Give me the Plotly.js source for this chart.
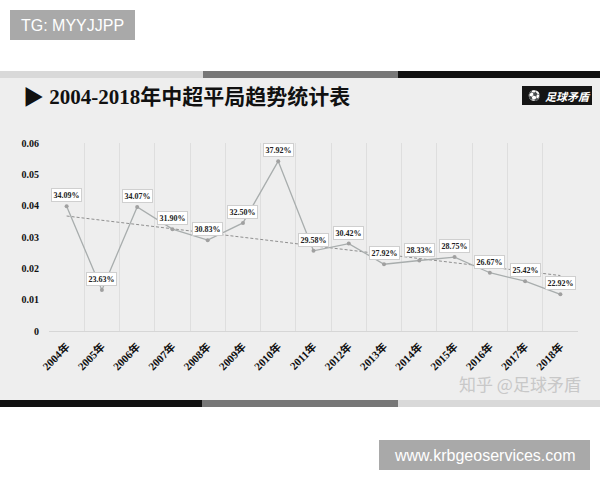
<!DOCTYPE html>
<html><head><meta charset="utf-8">
<script src="https://cdn.plot.ly/plotly-3.0.1.min.js"></script>
<style>html,body{margin:0;padding:0;background:#fff}#chart{width:600px;height:480px}</style>
</head><body><div id="chart"></div>
<script>
const years = ["2004年","2005年","2006年","2007年","2008年","2009年","2010年","2011年","2012年","2013年","2014年","2015年","2016年","2017年","2018年"];
const drawRates = ["34.09%","23.63%","34.07%","31.90%","30.83%","32.50%","37.92%","29.58%","30.42%","27.92%","28.33%","28.75%","26.67%","25.42%","22.92%"];
const values = [0.0398,0.0131,0.0396,0.0325,0.0290,0.0345,0.0542,0.0256,0.0279,0.0213,0.0225,0.0236,0.0186,0.0159,0.0117];
const trendYears = ["2004年","2018年"];
const trendValues = [0.0367,0.0177];
const titleText = "▶ 2004-2018年中超平局趋势统计表";

const W=600,H=480,L=49,R=22,T=143,B=149;
const pw=W-L-R, ph=H-T-B;
const px=x=>(x-L)/pw, py=y=>(H-B-y)/ph;
const rect=(x0,y0,x1,y1,fill)=>({type:'rect',xref:'paper',yref:'paper',x0:px(x0),x1:px(x1),y0:py(y1),y1:py(y0),fillcolor:fill,line:{width:0},layer:'below'});

const serif = "'Liberation Serif','Noto Sans CJK SC',serif";
const shapes = [
  rect(0,78,600,400,'#eeeeee'),
  rect(0,71,203,78,'#d9d9d9'), rect(203,71,398,78,'#777777'), rect(398,71,600,78,'#111111'),
  rect(0,400,202,407,'#111111'), rect(202,400,398,407,'#777777'), rect(398,400,600,407,'#d9d9d9'),
  rect(10,10,135,40,'#a9a9a9'), rect(379,440,590,470,'#a9a9a9'),
  rect(522,86,592,105,'#151515')
];

const txt=(x,y,text,font,xa)=>({xref:'paper',yref:'paper',x:px(x),y:py(y),xanchor:xa||'center',yanchor:'middle',text:text,showarrow:false,font:font});
const annotations = [
  txt(72.5,25,'TG: MYYJJPP',{family:"'Liberation Sans',Arial,sans-serif",size:16,color:'#fff'}),
  txt(484.5,455,'www.krbgeoservices.com',{family:"'Liberation Sans',Arial,sans-serif",size:16,color:'#fff'}),
  txt(21,97,titleText,{family:serif,size:21,color:'#111',weight:'bold'},'left'),
  txt(568,95.5,'足球矛盾',{family:"'Noto Sans CJK SC',sans-serif",size:11,color:'#fff',style:'italic',weight:'bold'}),
  txt(533,95.5,'⚽',{family:"'DejaVu Sans',sans-serif",size:10,color:'#fff'}),
  txt(520,383,'知乎 @足球矛盾',{family:"'Noto Sans CJK SC',sans-serif",size:17,color:'#c8c8c8'})
];
years.forEach((yr,i)=>{
  annotations.push({x:yr,y:values[i],xref:'x',yref:'y',text:drawRates[i],showarrow:false,yshift:11,
    xanchor:'center',yanchor:'middle',
    bgcolor:'#ffffff',bordercolor:'#cfcfcf',borderwidth:1,borderpad:1.5,
    font:{family:serif,size:8,color:'#222',weight:'bold'}});
});

const traces = [
  {x:trendYears,y:trendValues,type:'scatter',mode:'lines',line:{color:'#8f8f8f',width:1,dash:'3px,2px'},hoverinfo:'skip'},
  {x:years,y:values,type:'scatter',mode:'lines+markers',line:{color:'#a8adad',width:1.3},marker:{size:4,color:'#a0a0a0'}}
];

const layout = {
  width:W,height:H,margin:{l:L,r:R,t:T,b:B,pad:0},
  paper_bgcolor:'#ffffff',plot_bgcolor:'rgba(0,0,0,0)',showlegend:false,
  xaxis:{type:'category',categoryorder:'array',categoryarray:years,range:[-0.5,14.5],
    tickson:'boundaries',showgrid:true,gridcolor:'#dedede',gridwidth:1,ticks:'',
    tickangle:-45,ticklabelstandoff:4,showline:true,linecolor:'#d6d6d6',linewidth:1,zeroline:false,
    tickfont:{family:serif,size:11,color:'#111',weight:'bold'},fixedrange:true},
  yaxis:{range:[0,0.06],dtick:0.01,tick0:0,showgrid:false,zeroline:false,showline:false,ticks:'',
    ticklabelstandoff:9,tickfont:{family:serif,size:10,color:'#111',weight:'bold'},fixedrange:true},
  shapes:shapes,annotations:annotations
};
Plotly.newPlot('chart',traces,layout,{staticPlot:true});
</script></body></html>
